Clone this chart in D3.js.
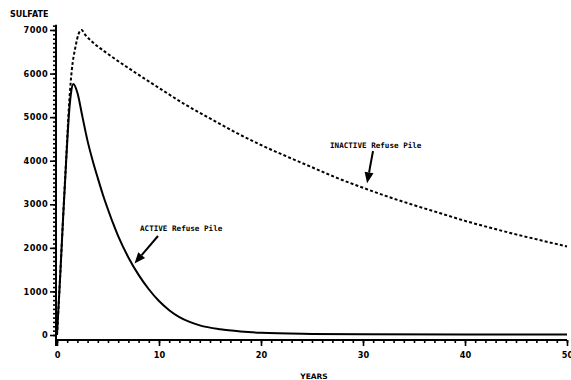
<!DOCTYPE html>
<html>
<head>
<meta charset="utf-8">
<script src="https://cdn.jsdelivr.net/npm/d3@7"></script>
<style>
  body { margin: 0; background: #fff; }
  svg text { font-family: "DejaVu Sans", sans-serif; font-weight: bold; fill: #000; }
  .note { font-family: "DejaVu Sans Mono", monospace; font-size: 7.6px; }
</style>
</head>
<body>
<svg id="chart" width="571" height="380"></svg>
<script>
// years, sulfate
const activeYears = [0, 0.3, 0.6, 0.9, 1.2, 1.4, 1.6, 2.0, 2.5, 3, 3.5, 4, 4.5, 5, 5.5, 6, 7, 8, 9, 10, 11, 12, 13, 14, 16, 18, 20, 25, 30, 40, 50];
const activeSulfate = [0, 1300, 2700, 4000, 5150, 5600, 5760, 5560, 5000, 4450, 4000, 3600, 3220, 2880, 2560, 2270, 1780, 1380, 1050, 780, 570, 410, 300, 220, 130, 80, 50, 25, 15, 10, 10];

const inactiveYears = [0, 0.3, 0.6, 0.9, 1.2, 1.45, 1.8, 2.1, 2.4, 2.8, 3.5, 5, 7.5, 10, 12.5, 15, 17.5, 20, 22.5, 25, 27.5, 30, 32.5, 35, 37.5, 40, 42.5, 45, 47.5, 50];
const inactiveSulfate = [0, 1300, 2700, 4050, 5350, 6080, 6600, 6900, 7000, 6880, 6720, 6450, 6050, 5670, 5300, 4970, 4650, 4360, 4100, 3850, 3600, 3380, 3170, 2980, 2800, 2620, 2460, 2310, 2170, 2030];

const yMajor = [0, 1000, 2000, 3000, 4000, 5000, 6000, 7000];
const xMajor = [0, 10, 20, 30, 40, 50];

const svg = d3.select('#chart');

const x = d3.scaleLinear().domain([0, 50]).range([57, 567]);
const y = d3.scaleLinear().domain([0, 7000]).range([335, 30]);
const axisY = 340; // x axis sits a little below zero

// Y axis
const yAxis = svg.append('g').attr('transform', 'translate(56,0)');
yAxis.call(d3.axisLeft(y).tickValues(d3.range(0, 7101, 100)).tickSize(3).tickFormat(''))
    .call(g => g.select('.domain').remove());
yAxis.append('g')
    .call(d3.axisLeft(y).tickValues(yMajor).tickSize(6).tickPadding(2).tickFormat(d3.format('d')))
    .call(g => g.select('.domain').remove())
    .selectAll('text').attr('font-size', 8.2).attr('letter-spacing', 0.4);
yAxis.selectAll('line').attr('stroke', '#000').attr('stroke-width', 1.6);
yAxis.append('line')
    .attr('x1', 0).attr('x2', 0)
    .attr('y1', y(7120)).attr('y2', axisY + 6)
    .attr('stroke', '#000').attr('stroke-width', 2);

// X axis
const xAxis = svg.append('g').attr('transform', `translate(0,${axisY})`);
xAxis.call(d3.axisBottom(x).tickValues(d3.range(0, 51, 1)).tickSize(3).tickFormat(''))
    .call(g => g.select('.domain').remove());
xAxis.append('g')
    .call(d3.axisBottom(x).tickValues(xMajor).tickSize(6).tickPadding(6).tickFormat(d3.format('d')))
    .call(g => g.select('.domain').remove())
    .selectAll('text').attr('font-size', 8.2);
xAxis.selectAll('line').attr('stroke', '#000').attr('stroke-width', 1.6);
xAxis.append('line')
    .attr('x1', x(0)).attr('x2', x(50))
    .attr('stroke', '#000').attr('stroke-width', 2);

// Titles
svg.append('text').attr('x', 10).attr('y', 17).attr('font-size', 8).text('SULFATE');
svg.append('text').attr('x', 314).attr('y', 379).attr('font-size', 7.5)
    .attr('text-anchor', 'middle').text('YEARS');

// Curves
const line = d3.line()
    .x(d => x(d[0]))
    .y(d => y(d[1]))
    .curve(d3.curveMonotoneX);

svg.append('path')
    .datum(d3.zip(activeYears, activeSulfate))
    .attr('d', line)
    .attr('fill', 'none')
    .attr('stroke', '#000')
    .attr('stroke-width', 2);

svg.append('path')
    .datum(d3.zip(inactiveYears, inactiveSulfate))
    .attr('d', line)
    .attr('fill', 'none')
    .attr('stroke', '#000')
    .attr('stroke-width', 2)
    .attr('stroke-dasharray', '3,2.2');

// Annotations with arrows
function arrow(x1, y1, x2, y2) {
    const ang = Math.atan2(y2 - y1, x2 - x1);
    const len = 11, half = 4.5;
    const bx = x2 - len * Math.cos(ang), by = y2 - len * Math.sin(ang);
    svg.append('line')
        .attr('x1', x1).attr('y1', y1).attr('x2', bx).attr('y2', by)
        .attr('stroke', '#000').attr('stroke-width', 2);
    svg.append('path')
        .attr('d', `M${x2},${y2}L${bx + half * Math.sin(ang)},${by - half * Math.cos(ang)}L${bx - half * Math.sin(ang)},${by + half * Math.cos(ang)}Z`)
        .attr('fill', '#000');
}

svg.append('text').attr('class', 'note').attr('x', 330).attr('y', 148).text('INACTIVE Refuse Pile');
arrow(373, 151, x(30.4), y(3480));

svg.append('text').attr('class', 'note').attr('x', 140).attr('y', 231).text('ACTIVE Refuse Pile');
arrow(158, 236, x(7.6), y(1640));
</script>
</body>
</html>
